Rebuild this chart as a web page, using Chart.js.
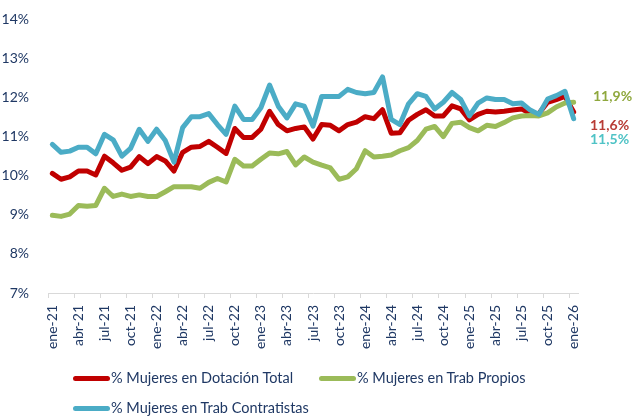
<!DOCTYPE html>
<html>
<head>
<meta charset="utf-8">
<script src="https://cdn.jsdelivr.net/npm/chart.js@4.4.1/dist/chart.umd.min.js"></script>
<style>
  body { margin: 0; background: #fff; }
  #wrap { position: relative; width: 633px; height: 420px; }
  .leg { position: absolute; font-family: Lato, sans-serif; font-size: 14.5px; color: #1F3864; white-space: nowrap; line-height: 16px; }
  .swatch { position: absolute; width: 37px; height: 5px; border-radius: 3px; }
</style>
</head>
<body>
<div id="wrap">
  <canvas id="chart" width="633" height="420"></canvas>
  <div class="swatch" style="left:73px;top:376px;background:#C00000"></div>
  <div class="leg" style="left:111px;top:370px">% Mujeres en Dotación Total</div>
  <div class="swatch" style="left:319px;top:376px;background:#9BBB59"></div>
  <div class="leg" style="left:357px;top:370px">% Mujeres en Trab Propios</div>
  <div class="swatch" style="left:73px;top:406px;background:#4BACC6"></div>
  <div class="leg" style="left:111px;top:400px">% Mujeres en Trab Contratistas</div>
</div>
<script>
// meses ene-21 .. ene-26
const monthNames = ["ene", "feb", "mar", "abr", "may", "jun", "jul", "ago", "sep", "oct", "nov", "dic"];
const months = [];
for (let y = 21; y <= 26; y++) {
    for (let m = 0; m < 12; m++) {
        if (y === 26 && m > 0) break;
        months.push(monthNames[m] + "-" + y);
    }
}

const dotacionTotal = [10.06, 9.91, 9.97, 10.12, 10.12, 10.02, 10.50, 10.33, 10.14, 10.22,
    10.49, 10.31, 10.49, 10.38, 10.12, 10.60, 10.73, 10.75, 10.88, 10.73,
    10.57, 11.21, 10.98, 10.98, 11.19, 11.65, 11.31, 11.15, 11.21, 11.25,
    10.94, 11.31, 11.29, 11.15, 11.31, 11.37, 11.51, 11.46, 11.69, 11.09,
    11.10, 11.42, 11.57, 11.69, 11.53, 11.53, 11.79, 11.71, 11.43, 11.57,
    11.65, 11.63, 11.65, 11.68, 11.71, 11.59, 11.59, 11.88, 11.95, 12.03, 11.63];

const trabPropios = [8.99, 8.96, 9.02, 9.24, 9.22, 9.24, 9.68, 9.47, 9.53, 9.47,
    9.51, 9.47, 9.47, 9.59, 9.72, 9.72, 9.72, 9.68, 9.83, 9.93,
    9.84, 10.42, 10.25, 10.25, 10.42, 10.58, 10.56, 10.62, 10.28, 10.48,
    10.35, 10.27, 10.20, 9.91, 9.97, 10.18, 10.64, 10.48, 10.50, 10.53,
    10.64, 10.72, 10.90, 11.19, 11.26, 11.00, 11.34, 11.37, 11.23, 11.15,
    11.29, 11.26, 11.36, 11.48, 11.53, 11.54, 11.53, 11.61, 11.76, 11.86, 11.88];

const trabContratistas = [10.80, 10.60, 10.63, 10.73, 10.73, 10.56, 11.06, 10.92, 10.50, 10.70,
    11.19, 10.88, 11.19, 10.90, 10.35, 11.23, 11.51, 11.51, 11.59, 11.31,
    11.06, 11.78, 11.44, 11.44, 11.74, 12.32, 11.78, 11.48, 11.84, 11.78,
    11.27, 12.03, 12.03, 12.03, 12.21, 12.13, 12.10, 12.13, 12.53, 11.44,
    11.31, 11.84, 12.10, 12.03, 11.71, 11.88, 12.13, 11.95, 11.53, 11.86,
    11.99, 11.95, 11.95, 11.84, 11.86, 11.68, 11.57, 11.96, 12.05, 12.16, 11.46];

const yTicks = [7, 8, 9, 10, 11, 12, 13, 14];

const navy = "#1F3864";

// etiquetas finales (último valor de cada serie)
const endLabels = {
    id: "endLabels",
    afterDatasetsDraw(chart) {
        const ctx = chart.ctx;
        const nudge = [13, -6, 21];
        const colors = ["#B83B35", "#8FA83E", "#4FC3C6"];
        ctx.save();
        ctx.font = "bold 14px Lato, sans-serif";
        ctx.textBaseline = "middle";
        chart.data.datasets.forEach((ds, i) => {
            const meta = chart.getDatasetMeta(i);
            const pt = meta.data[meta.data.length - 1];
            const v = ds.data[ds.data.length - 1];
            ctx.fillStyle = colors[i];
            ctx.fillText(v.toFixed(1).replace(".", ",") + "%", chart.chartArea.right + (i === 1 ? 15 : 12), pt.y + nudge[i]);
        });
        ctx.restore();
    }
};

new Chart(document.getElementById("chart"), {
    type: "line",
    data: {
        labels: months,
        datasets: [
            { label: "% Mujeres en Dotación Total", data: dotacionTotal, borderColor: "#C00000", order: 2 },
            { label: "% Mujeres en Trab Propios", data: trabPropios, borderColor: "#9BBB59", order: 1 },
            { label: "% Mujeres en Trab Contratistas", data: trabContratistas, borderColor: "#4BACC6", order: 0 }
        ]
    },
    options: {
        responsive: false,
        animation: false,
        layout: { padding: { top: 15, right: 55, left: 0, bottom: 0 } },
        elements: {
            line: { borderWidth: 5, tension: 0, borderJoinStyle: "round", borderCapStyle: "round" },
            point: { radius: 0 }
        },
        plugins: {
            legend: { display: false },
            tooltip: { enabled: false }
        },
        scales: {
            x: {
                type: "category",
                offset: true,
                afterFit: (scale) => { scale.height = 127; },
                border: { display: true, color: "#D9D9D9", width: 1 },
                grid: {
                    offset: true,
                    drawOnChartArea: false,
                    drawTicks: true,
                    tickLength: 5,
                    color: (c) => (c.index % 3 === 0 ? "#D9D9D9" : "rgba(0,0,0,0)")
                },
                ticks: {
                    autoSkip: false,
                    minRotation: 90,
                    maxRotation: 90,
                    padding: 7,
                    color: navy,
                    font: { family: "Lato", size: 14 },
                    callback: (v, i) => (i % 3 === 0 ? months[i] : "")
                }
            },
            y: {
                min: 7,
                max: 14,
                afterFit: (scale) => { scale.width = 48; },
                afterBuildTicks: (scale) => { scale.ticks = yTicks.map(v => ({ value: v })); },
                border: { display: false },
                grid: { display: false },
                ticks: {
                    padding: 11,
                    color: navy,
                    font: { family: "Lato", size: 14 },
                    callback: (v) => v + "%"
                }
            }
        }
    },
    plugins: [endLabels]
});
</script>
</body>
</html>
